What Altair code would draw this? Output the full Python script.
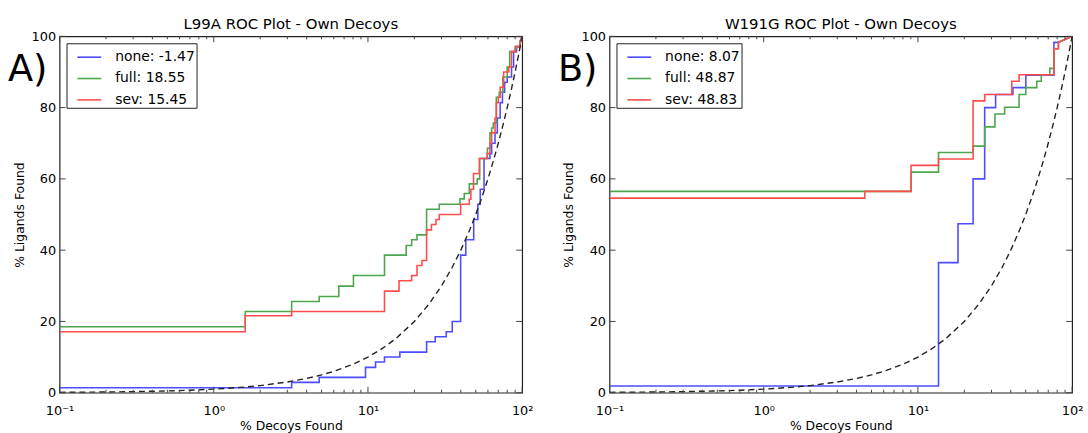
import altair as alt
import pandas as pd

# ---------------- data ----------------
# Panel A (L99A)
none_A_x = [0.1, 3.2, 4.83, 9.64, 11.2, 12.8, 16.1, 24.0, 27.3, 32.2, 35.2, 39.9, 43.1, 48.5, 51.6,
            53.5, 56.6, 61.8, 63.4, 66.7, 69.0, 72.0, 74.5, 77.0, 80.0, 85.3, 88.0, 92.0, 97.0]
none_A_y = [1.4, 2.9, 4.3, 7.1, 8.6, 10.0, 11.4, 14.3, 15.7, 17.1, 20.0, 38.6, 42.9, 48.6, 52.9,
            57.1, 65.7, 67.1, 70.0, 72.9, 77.1, 81.4, 84.3, 87.1, 88.6, 91.4, 95.7, 97.1, 98.6]
full_A_x = [0.1, 1.6, 3.2, 4.83, 6.47, 8.05, 12.8, 17.7, 19.2, 20.8, 24.0, 29.0, 39.5, 42.1, 45.4,
            51.1, 53.0, 59.5, 61.8, 63.4, 65.0, 68.0, 71.0, 75.0, 80.0, 83.0, 90.0, 97.0]
full_A_y = [18.5, 22.8, 25.6, 27.0, 29.9, 32.9, 38.6, 41.3, 42.9, 44.3, 51.5, 52.9, 54.4, 55.9, 58.6,
            60.0, 65.7, 68.6, 72.9, 74.3, 75.7, 82.9, 84.3, 88.6, 91.4, 95.7, 97.1, 98.6]
sev_A_x = [0.1, 1.6, 3.2, 12.8, 15.9, 19.2, 20.8, 22.4, 24.0, 25.8, 27.6, 29.0, 39.9, 45.4, 46.5,
           48.4, 52.8, 59.3, 61.8, 63.4, 66.7, 68.0, 70.0, 72.0, 75.8, 81.9, 85.3, 90.7, 97.0]
sev_A_y = [17.1, 21.6, 22.8, 28.5, 31.4, 32.9, 35.7, 37.1, 45.7, 47.2, 48.6, 50.0, 52.9, 54.3, 57.1,
           61.5, 65.7, 67.1, 70.0, 72.9, 77.1, 81.4, 82.9, 85.7, 90.0, 91.4, 95.7, 97.1, 98.6]
labels_A = ["none: -1.47", "full: 18.55", "sev: 15.45"]

# Panel B (W191G)
none_B_x = [0.1, 13.6, 18.2, 22.8, 27.1, 31.9, 41.3, 50.1, 76.2, 81.5]
none_B_y = [1.9, 36.5, 47.4, 60.0, 80.0, 83.7, 85.6, 89.1, 98.3, 98.3]
full_B_x = [0.1, 9.03, 13.6, 22.8, 27.1, 31.6, 36.5, 45.3, 50.1, 59.0, 63.1, 71.7, 76.2, 81.5]
full_B_y = [56.5, 61.9, 67.4, 69.2, 74.6, 78.2, 80.1, 83.7, 85.6, 87.4, 89.2, 91.0, 96.5, 98.3]
sev_B_x = [0.1, 4.52, 9.03, 13.6, 22.8, 27.1, 40.6, 45.3, 76.2, 81.5]
sev_B_y = [54.6, 56.5, 63.8, 65.6, 81.9, 83.7, 87.4, 89.2, 96.5, 98.3]
labels_B = ["none: 8.07", "full: 48.87", "sev: 48.83"]

# random-selection reference (dashed)
diag_x = [0.1, 0.15, 0.2, 0.3, 0.5, 0.7, 1, 1.5, 2, 3, 4, 5, 6, 8, 10, 12, 15, 20, 25, 30, 35,
          40, 45, 50, 55, 60, 65, 70, 75, 80, 85, 90, 95, 100]
diag_y = [0.1, 0.15, 0.2, 0.3, 0.5, 0.7, 1, 1.5, 2, 3, 4, 5, 6, 8, 10, 12, 15, 20, 25, 30, 35,
          40, 45, 50, 55, 60, 65, 70, 75, 80, 85, 90, 95, 100]

major_x = [0.1, 1, 10, 100]
minor_x = [0.2, 0.3, 0.4, 0.5, 0.6, 0.7, 0.8, 0.9, 2, 3, 4, 5, 6, 7, 8, 9,
           20, 30, 40, 50, 60, 70, 80, 90]
y_ticks = [0, 20, 40, 60, 80, 100]

COLORS = ["#4d4dff", "#4da64d", "#ff4d4d"]
W, H = 466, 359
FONT = "DejaVu Sans"


def steps(xs, ys, label):
    rows = []
    k = 0
    for i, (x, y) in enumerate(zip(xs, ys)):
        if i > 0:
            rows.append({"x": x, "y": ys[i - 1], "series": label, "k": k}); k += 1
        rows.append({"x": x, "y": y, "series": label, "k": k}); k += 1
    rows.append({"x": 100.0, "y": 100.0, "series": label, "k": k})
    return rows


def panel(title, letter, series, labels, letter_dx):
    rows = []
    for (xs, ys), lab in zip(series, labels):
        rows += steps(xs, ys, lab)
    df = pd.DataFrame(rows)

    xscale = alt.Scale(type="log", domain=[0.1, 100], nice=False)
    yscale = alt.Scale(domain=[0, 100], nice=False)

    xaxis = alt.Axis(values=major_x, ticks=False, domain=False, grid=False,
                     labelExpr="datum.value < 0.5 ? '10⁻¹' : datum.value < 5 ? '10⁰' : datum.value < 50 ? '10¹' : '10²'",
                     labelFontSize=13, labelPadding=12, title="% Decoys Found",
                     titleFontSize=12.5, titleFontWeight="normal", titlePadding=2,
                     labelColor="black", titleColor="black", labelFlush=False)
    yaxis = alt.Axis(values=y_ticks, ticks=False, domain=False, grid=False,
                     labelFontSize=13, labelPadding=4, title="% Ligands Found",
                     titleFontSize=12.5, titleFontWeight="normal", titlePadding=5,
                     labelColor="black", titleColor="black")

    lines = alt.Chart(df).mark_line(strokeWidth=1.6, clip=True).encode(
        x=alt.X("x:Q", scale=xscale, axis=xaxis),
        y=alt.Y("y:Q", scale=yscale, axis=yaxis),
        color=alt.Color("series:N",
                        scale=alt.Scale(domain=labels, range=COLORS),
                        sort=labels,
                        legend=alt.Legend(title=None, orient="top-left", offset=7,
                                          strokeColor="#222", fillColor="white",
                                          padding=1, labelFontSize=14, labelFont=FONT,
                                          symbolType="M-1,0H1", symbolSize=576,
                                          symbolStrokeWidth=1.6, rowPadding=1.5,
                                          symbolOffset=9,
                                          labelOffset=13, cornerRadius=0,
                                          labelColor="black")),
        order="k:Q",
    )

    diag = alt.Chart(pd.DataFrame({"x": diag_x, "y": diag_y})).mark_line(
        strokeDash=[6, 4], color="#222", strokeWidth=1.4, clip=True
    ).encode(x=alt.X("x:Q", scale=xscale), y=alt.Y("y:Q", scale=yscale))

    maj = pd.DataFrame({"x": major_x})
    mnr = pd.DataFrame({"x": minor_x})
    yt = pd.DataFrame({"y": y_ticks})
    tick_c = "#444"
    xt_bot_maj = alt.Chart(maj).mark_rule(color=tick_c).encode(
        x=alt.X("x:Q", scale=xscale), y=alt.value(H), y2=alt.value(H - 6))
    xt_top_maj = alt.Chart(maj).mark_rule(color=tick_c).encode(
        x=alt.X("x:Q", scale=xscale), y=alt.value(0), y2=alt.value(6))
    xt_bot_min = alt.Chart(mnr).mark_rule(color=tick_c).encode(
        x=alt.X("x:Q", scale=xscale), y=alt.value(H), y2=alt.value(H - 3))
    xt_top_min = alt.Chart(mnr).mark_rule(color=tick_c).encode(
        x=alt.X("x:Q", scale=xscale), y=alt.value(0), y2=alt.value(3))
    yt_l = alt.Chart(yt).mark_rule(color=tick_c).encode(
        y=alt.Y("y:Q", scale=yscale), x=alt.value(0), x2=alt.value(6))
    yt_r = alt.Chart(yt).mark_rule(color=tick_c).encode(
        y=alt.Y("y:Q", scale=yscale), x=alt.value(W), x2=alt.value(W - 6))

    let = alt.Chart(pd.DataFrame({"t": [letter]})).mark_text(
        fontSize=37, align="left", baseline="middle", font=FONT, color="black"
    ).encode(text="t:N", x=alt.value(letter_dx), y=alt.value(34))

    return alt.layer(lines, diag, xt_bot_maj, xt_top_maj, xt_bot_min, xt_top_min,
                     yt_l, yt_r, let).properties(
        width=W, height=H,
        title=alt.Title(title, fontSize=15, fontWeight="normal", font=FONT,
                        color="black", offset=-2),
    )


pA = panel("L99A ROC Plot - Own Decoys", "A)",
           [(none_A_x, none_A_y), (full_A_x, full_A_y), (sev_A_x, sev_A_y)], labels_A, -52)
pB = panel("W191G ROC Plot - Own Decoys", "B)",
           [(none_B_x, none_B_y), (full_B_x, full_B_y), (sev_B_x, sev_B_y)], labels_B, -52)

chart = alt.hconcat(pA, pB, spacing=88, bounds="flush").resolve_scale(
    color="independent"
).properties(
    padding={"left": 7, "top": 15, "right": 4, "bottom": 0}
).configure(
    font=FONT,
    background="white",
).configure_view(
    stroke="#222", strokeWidth=1.2
)

chart.save("out.html", embed_options={"renderer": "svg", "actions": False})
